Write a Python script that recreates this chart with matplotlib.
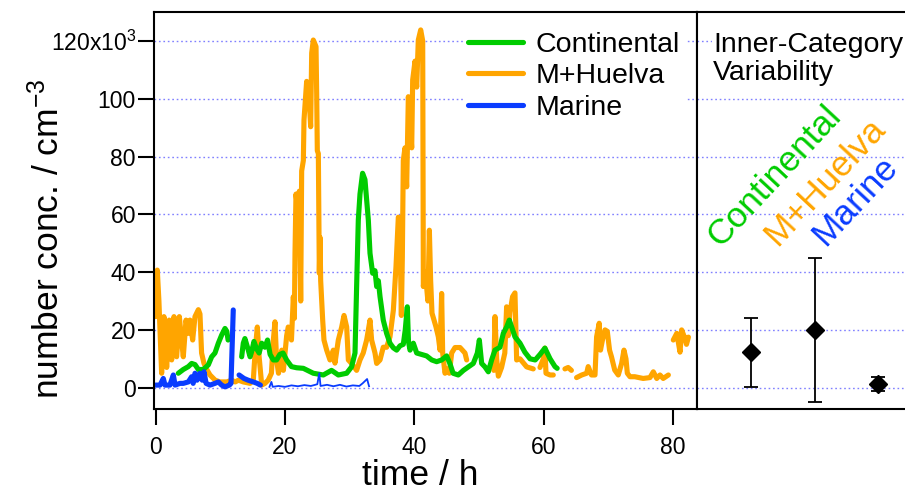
import numpy as np
import matplotlib
matplotlib.use('Agg')
import matplotlib.pyplot as plt

plt.rcParams['font.family'] = ['Liberation Sans', 'DejaVu Sans']
plt.rcParams['mathtext.fontset'] = 'custom'
plt.rcParams['mathtext.rm'] = 'Liberation Sans'
plt.rcParams['mathtext.it'] = 'Liberation Sans:italic'
plt.rcParams['mathtext.bf'] = 'Liberation Sans:bold'

nan = np.nan

# number concentration in 10^3 cm^-3 vs time in h (nan = gap in record)
huelva_t = [0.0, 0.25, 0.5, 0.92, 1.28, 1.7, 2.1, 2.47, 2.83, 3.24, 3.66, 4.0, 4.27, 4.69, 5.05, 5.3, 5.72,
            6.08, 6.6, 6.85, 7.1, 7.47, 7.9, 8.4, 9.2, 9.94, 11.0, 11.75, 12.3, 12.8, 13.55, 14.6, 15.1,
            15.4, 15.72, 16.0, 16.4, 16.9, 17.4, 17.9, 18.2, 18.45, 18.7, 19.0, 19.23, 19.5, 19.75, 20.26,
            20.5, 20.78, 21.0, 21.29, 21.45, 21.55, 21.7, 22.06, 22.22, 22.43, 22.58, 22.84, 22.94, 23.35,
            23.77, 23.97, 24.13, 24.38, 24.8, 24.9, 25.0, 25.16, 25.31, 25.42, 25.52, 25.83, 26.03, 26.45,
            26.96, 27.48, 27.73, 28.25, 28.77, 29.13, 29.54, 29.8, 30.3, 31.08, 31.6, 32.1, 32.63, 32.89,
            33.15, 33.4, 33.92, 34.18, 34.7, 35.2, 35.72, 36.24, 36.76, 37.17, 37.53, 37.75, 38.0, 38.15,
            38.3, 38.56, 38.82, 39.08, 39.6, 39.75, 40.11, 40.37, 40.62, 40.99, 41.3, 41.4, 41.66, 41.9,
            42.1, 42.33, 42.53, 42.74, 43.05, 43.36, 43.72, 43.98, 44.23, 44.39, 44.75, 45.0, 45.42, 45.78,
            46.3, 47.07, 47.84, 48.1, nan,
            52.3, 52.48, 52.74, 53.0, 53.5, 54.0, 54.28, 54.54, 54.8, 55.2, 55.57, 55.83, 56.35, 57.38,
            58.4, nan,
            59.44, 59.96, 60.2, 60.37, 61.0, 61.5, nan,
            63.3, 63.8, 64.3, nan,
            65.1, 65.9, 66.66, 66.9, 67.4, 67.95, 68.2, 68.6, 68.8, 69.1, 69.5, 69.85, 70.2, 70.5, 71.0,
            71.55, 72.07, 72.43, 72.74, 72.95, 73.36, 74.1, 75.4, 76.45, 76.97, 77.5, 78.0, 78.5, 79.3, nan,
            80.06, 80.6, 81.1, 81.35, 81.87, 82.1, 82.4]
huelva_v = [24.6, 40.7, 30, 5, 24.6, 7, 23.4, 9.6, 24.6, 10.7, 24.6, 16.5, 10.7, 23.4, 18.8, 23.4, 16.5,
            24.6, 27, 25.5, 12, 8.4, 6.3, 4.4, 2.6, 2.0, 2.0, 2.6, 2.0, 2.6, 2.0, 1.5, 2.6,
            13, 21, 10.7, 0.9, 1.5, 2.6, 5, 16.5, 22.8, 9.6, 5, 9.6, 13, 6, 18,
            21, 20, 16.5, 31.5, 24, 46.6, 67, 60, 68, 30, 75, 78.6, 92.6, 106,
            98.5, 90.3, 115.8, 120.3, 118, 102, 82, 81, 39.6, 52, 37, 23.4, 16.5, 13,
            9.6, 13, 8.5, 16.5, 21, 25, 21, 9.6, 8.4, 6, 9.6, 12, 16.5, 20,
            23.4, 16.5, 12, 8.4, 9.6, 14, 14, 17.6, 26.8, 41.9, 59, 58, 25, 45,
            78.6, 83, 69.5, 100.7, 83, 106.5, 113, 104, 120.3, 123.8, 120, 35, 40, 35,
            30, 54.5, 37, 25.8, 23.4, 21, 17.6, 13, 32.6, 12, 5, 6.5, 5, 12,
            13.9, 13.9, 12, 9.6, nan,
            6, 24.6, 10, 4, 7, 12, 28, 18, 26, 31.5, 32.8, 9.6, 10, 7.2,
            6.5, nan,
            7, 10, 13.7, 5, 4.4, 4.4, nan,
            6.5, 7, 6, nan,
            3.5, 4.4, 5, 7.3, 4.4, 4.4, 17.6, 22.3, 13, 16.5, 20, 19.5, 13, 10.7, 6.1,
            4.4, 8.4, 13, 10, 5, 3.8, 3.8, 3.2, 3.5, 5.5, 3.2, 4.4, 3.2, 4.4, nan,
            16.5, 18.8, 12.3, 20, 17, 15, 17.5]

cont_t = [3.5, 4.27, 5.05, 5.56, 6.08, 6.6, 7.37, 8.14, 8.66, 9.17, 9.69, 10.2, 10.72, 11.0, 11.2, nan,
          13.3, 13.55, 13.8, 14.2, 14.6, 14.85, 15.2, 15.6, 16.0, 16.4, 16.9, 17.3, 17.7, 18.2, 18.7,
          19.2, 19.7, 20.25, 21.0, 21.8, 22.84, 24.38, 25.93, 27.2, 28.25, 29.54, 30.3, 30.83, 31.08,
          31.34, 31.6, 32.0, 32.37, 32.63, 32.89, 33.15, 33.56, 33.92, 34.18, 34.44, 34.7, 35.2, 35.72,
          36.24, 36.76, 37.27, 37.79, 38.3, 38.6, 38.92, 39.1, 39.34, 39.85, 40.37, 41.14, 41.9, 42.7,
          43.46, 44.23, 45.0, 45.5, 46.0, 46.8, 47.6, 48.36, 49.13, 49.75, 50.06, 50.42, 50.93, 51.45,
          51.96, 52.48, 53.25, 53.77, 54.28, 54.7, 55.06, 55.57, 56.35, 57.1, 57.9, 58.7, 59.44, 60.2,
          61.0, 61.76, 62.1]
cont_v = [5, 6.3, 7.3, 8.4, 8, 6.3, 6.3, 7.9, 10.7, 12, 15.4, 18.2, 20.5, 19.5, 16.5, nan,
          10.7, 15.4, 17, 14, 10.7, 12.5, 16, 13.5, 12, 15.4, 14, 16.5, 11.5, 9.6, 9.6,
          11.5, 12, 9.6, 7.3, 6.9, 6.7, 5, 4.4, 6, 4.4, 5, 7.2, 12, 35,
          58, 67, 74.2, 72, 65, 58, 46.5, 39.6, 40.5, 35, 37, 31.5, 23.4, 18.8,
          15.4, 13.8, 13, 14.5, 15, 20, 28, 16, 13, 15.4, 12, 11.5, 11, 9.6,
          9, 9.6, 11, 8.4, 5, 4.4, 6, 7.2, 8.4, 12, 16.5, 8.4, 7.2, 5.5,
          9.6, 13, 14, 18.8, 21, 23.4, 21, 17.6, 15.4, 12.3, 10, 9.6, 11.5, 13.7,
          10, 7.3, 6.7]

marine_t = [0.0, 0.67, 1.18, 1.44, 2.2, 2.73, 3.0, 3.76, 4.27, 5.05, 5.56, 5.8, 6.08, 6.4, 6.85, 7.2,
            7.47, 7.8, 8.4, 9.17, 9.7, 10.2, 10.72, 11.4, 11.65, 12.0, nan,
            12.9, 13.66, 14.3, 15.1, 15.7, 16.2]
marine_v = [0.9, 0.9, 3.2, 0.9, 0.9, 4.4, 0.9, 1.5, 1.5, 2, 3.8, 1.5, 5, 2.6, 5, 2.6,
            5.5, 1.5, 0.9, 1.5, 2, 0.9, 0.3, 0.9, 1.5, 26.9, nan,
            4.4, 3.2, 2.6, 2, 1.5, 0.9]
# sparse marine record, drawn thin
marine_sparse_t = [17.6, 17.9, 18.1, 19.0, 20.0, 21.0, 22.0, 23.0, 24.0, 25.0, 25.3, 25.5, 26.5, 27.5,
                   28.5, 29.5, 30.5, 31.5, 32.0, 32.7, 33.0]
marine_sparse_v = [0.3, 2, 0.3, 0.6, 0.3, 0.8, 0.5, 0.9, 0.6, 1.2, 5, 0.6, 1.0, 0.5,
                   1.0, 0.4, 0.8, 0.6, 1.5, 3, 0.5]

# inner-category variability (mean +- sd, 10^3 cm^-3)
categories = ['Continental', 'M+Huelva', 'Marine']
cat_mean = [12.2, 20.0, 1.3]
cat_sd = [11.8, 24.9, 2.5]

c_green = '#00cc00'
c_orange = '#ffa500'
c_blue = '#0a3cff'
cat_colors = [c_green, c_orange, c_blue]

xticks = [0, 20, 40, 60, 80]
yticks = [0, 20, 40, 60, 80, 100, 120]
ytick_labels = ['0', '20', '40', '60', '80', '100', '120x10$^3$']

fig = plt.figure(figsize=(9.05, 4.94), dpi=100)
ax = fig.add_axes([154/905, 85/494, 542.7/905, 397/494])
ax2 = fig.add_axes([696.7/905, 85/494, 208.3/905, 397/494], sharey=ax)

lw = 3.7
kw = dict(solid_capstyle='round', solid_joinstyle='round')
l_or, = ax.plot(huelva_t, huelva_v, color=c_orange, lw=lw, **kw)
l_gr, = ax.plot(cont_t, cont_v, color=c_green, lw=lw, **kw)
l_bl, = ax.plot(marine_t, marine_v, color=c_blue, lw=lw, **kw)
ax.plot(marine_sparse_t, marine_sparse_v, color=c_blue, lw=1.3)

ax.set_xlim(-0.26, 83.68)
ax.set_ylim(-7.37, 130)
ax.set_xticks(xticks)
ax.set_yticks(yticks)
ax.set_yticklabels(ytick_labels)

for a in (ax, ax2):
    a.yaxis.grid(True, color='#8080ff', linestyle=(0, (1.2, 2.0)), linewidth=1.0)
    a.set_axisbelow(True)
    for s in a.spines.values():
        s.set_linewidth(1.5)

ax.tick_params(axis='both', direction='out', length=11.5, width=1.5, labelsize=16.5)
ax.tick_params(axis='x', pad=7.6)
ax.tick_params(axis='y', pad=1.5)

ax.set_xlabel('time / h', fontsize=25.5)
ax.xaxis.set_label_coords(0.49, -0.127)
ax.set_ylabel('number conc. / cm$^{-3}$', fontsize=25.5)
ax.yaxis.set_label_coords(-0.162, 0.43)

leg = ax.legend(handles=[l_gr, l_or, l_bl], labels=categories, loc='upper left',
                bbox_to_anchor=(0.569, 0.965), fontsize=20.5, handlelength=1.9,
                handletextpad=0.46, borderpad=0.2, labelspacing=0.2, frameon=True,
                framealpha=1, edgecolor='none', borderaxespad=0, fancybox=False)

# right panel
cat_x = np.arange(len(categories))
ax2.errorbar(cat_x, cat_mean, yerr=cat_sd, fmt='D', color='k', ms=9.5, capsize=4.7,
             elinewidth=1.3, capthick=1.3, zorder=3)
ax2.set_xlim(-0.853, 2.42)
ax2.spines['right'].set_visible(False)
ax2.tick_params(left=False, labelleft=False, bottom=False, labelbottom=False)

ax2.text(0.078, 0.950, 'Inner-Category\nVariability', transform=ax2.transAxes, ha='left', va='top',
         fontsize=20.5, linespacing=1.13,
         bbox=dict(facecolor='white', edgecolor='none', pad=1))

label_pos = [(0.112, 0.4055), (0.385, 0.408), (0.615, 0.408)]
for name, col, (px, py) in zip(categories, cat_colors, label_pos):
    ax2.text(px, py, name, transform=ax2.transAxes, color=col, fontsize=25.5, rotation=47,
             rotation_mode='anchor', ha='left', va='baseline')

fig.savefig('out.png', dpi=100)
